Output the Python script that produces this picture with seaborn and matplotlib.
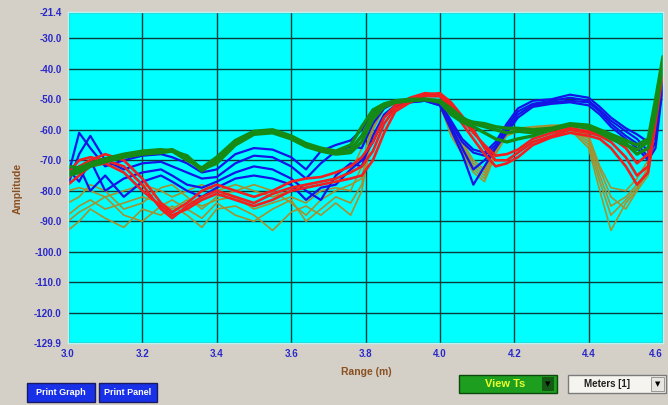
import matplotlib
matplotlib.use("Agg")
import matplotlib.pyplot as plt
import seaborn as sns
from matplotlib.patches import Rectangle

# ---------------- data ----------------
X = [3.00, 3.03, 3.06, 3.10, 3.15, 3.20, 3.25, 3.28, 3.32, 3.36, 3.40, 3.45, 3.50, 3.55,
     3.60, 3.64, 3.68, 3.72, 3.76, 3.79, 3.82, 3.85, 3.88, 3.92, 3.96, 4.00, 4.03, 4.06,
     4.09, 4.12, 4.15, 4.18, 4.21, 4.25, 4.30, 4.35, 4.40, 4.43, 4.46, 4.50, 4.53, 4.56,
     4.58, 4.60]

olive_1 = [-80, -79, -80, -82, -80, -78, -80, -82, -80, -78, -80, -78, -80, -82, -80, -78, -77, -76, -74, -66, -55, -51.5, -50.5, -50, -50, -50.5, -58, -64, -70, -73, -65, -60.5, -59.5, -59, -58.5, -58.5, -62, -72, -79, -80, -76, -70, -52, -36]
olive_2 = [-88, -85, -83, -86, -84, -82, -84, -86, -83, -85, -83, -82, -86, -84, -82, -84, -80, -79, -80, -72, -57, -52, -51, -50.3, -50.2, -51, -60, -66, -72, -75, -67, -61, -60, -59.5, -59, -59, -64, -75, -85, -82, -78, -73, -55, -37]
olive_3 = [-93, -90, -86, -89, -92, -86, -88, -85, -88, -92, -86, -85, -88, -93, -87, -85, -88, -84, -88, -80, -60, -53, -51.5, -50.5, -50.3, -51.5, -62, -68, -74, -77, -68, -62, -60.5, -60, -59.5, -60, -66, -80, -93, -84, -80, -75, -58, -39]
olive_4 = [-84, -82, -78, -80, -86, -84, -79, -78, -82, -86, -82, -80, -78, -80, -84, -88, -83, -80, -78, -76, -58, -52.5, -51, -50.5, -50.2, -51, -59, -65, -71, -74, -66, -61, -60, -59.5, -59, -59, -63, -73, -82, -86, -80, -72, -54, -37]
olive_5 = [-90, -87, -85, -82, -88, -90, -85, -83, -86, -89, -84, -88, -90, -86, -83, -90, -86, -82, -84, -78, -59, -53, -51, -50.5, -50.3, -52, -61, -67, -73, -76, -67, -61.5, -60.5, -60, -59.5, -59.5, -65, -77, -88, -83, -79, -74, -56, -38]

blue_1 = [-75, -61, -66, -72, -70, -68.5, -68, -69, -71, -74, -73, -68, -66, -66.5, -69, -73, -67, -65, -63.5, -60, -54, -51.5, -50.5, -50, -50, -51, -57, -63, -66.5, -67.5, -64, -58, -53, -50.5, -50, -48.5, -49.5, -52.5, -56, -59.5, -61.5, -64, -60, -40]
blue_2 = [-78, -68, -62, -70, -73, -71, -70.5, -72, -74, -76, -75.5, -71, -68.5, -69, -72, -76, -71, -67, -65.5, -66, -58, -53, -51, -50.2, -50, -51.5, -58, -64, -67.5, -68.5, -65, -59, -54, -51.5, -50.5, -49.5, -50.5, -53.5, -57, -60.5, -63, -67, -62, -42]
blue_3 = [-73, -77, -70, -80, -76, -74, -73, -75, -78, -79, -77, -74, -72, -73, -76, -80, -83, -75, -71, -72, -62, -55, -52, -51, -50.5, -52, -59, -66, -73, -70, -66, -60, -55, -52, -51, -50.5, -51, -54, -58, -62, -64.5, -69, -64, -44]
blue_4 = [-76, -72, -80, -75, -82, -77, -75, -77, -80, -82, -79, -76, -75, -76, -78, -83, -79, -78, -73, -70, -64, -56, -52.5, -51, -50.5, -52, -60, -68, -78, -72, -66, -61, -56, -52.5, -51.5, -51, -52, -55, -59, -63, -66, -70, -66, -45]

red_1 = [-76, -72, -70, -68, -70, -76, -84, -87, -84, -80, -78, -80, -82, -80, -77, -76, -75.5, -74, -72, -69, -64, -56, -52, -49.5, -48, -48.5, -52, -56.5, -61, -65, -68.5, -68, -66.5, -63, -61, -59.5, -60.5, -61.5, -62.5, -66, -71, -68, -52, -37]
red_2 = [-74, -70, -69, -70, -72, -78, -86, -89, -85, -82, -80, -82, -84, -81, -79, -78, -77, -76, -74, -72, -67, -58, -53, -50.5, -48.5, -48, -51, -55.5, -60, -66, -70, -70, -67.5, -64, -62, -60, -61, -62, -64, -69, -75, -72, -55, -39]
red_3 = [-78, -75, -72, -71, -74, -80, -85, -88, -86, -83, -81, -83, -85, -83, -80, -79, -78, -77, -76, -75, -70, -61, -54, -51, -49, -49, -53, -58, -63, -68, -72, -71, -69, -65, -62.5, -61, -62, -63, -66, -72, -78, -74, -58, -41]

green_1 = [-74, -73, -71.5, -70, -68.5, -67.5, -67, -66.5, -69, -73.5, -70, -64, -61, -60.5, -62.5, -65, -66.5, -67.5, -66.5, -62, -55, -52, -51, -50.3, -50, -50.5, -54, -56.5, -57.5, -58, -59, -59.5, -59.5, -60, -59.5, -58, -58.5, -60, -61.5, -63.5, -65, -63, -50, -36]
green_2 = [-72, -72.5, -71, -69.5, -68, -67, -66.5, -67, -70, -72.5, -69, -63.5, -60.5, -60, -62, -64.5, -66, -67, -65, -59, -53.5, -51.5, -50.5, -50, -50, -51, -55, -57.5, -59, -61, -63, -64, -63, -62, -60, -58.5, -59.5, -61, -63, -65, -66.5, -64, -52, -37]
green_3 = [-75, -74, -72, -70.5, -69, -68, -67.5, -67, -68.5, -73, -71, -65, -61.5, -61, -63, -65.5, -67, -68, -67.5, -64, -56.5, -52.5, -51, -50.5, -50.2, -50.5, -53, -56, -58, -59, -60, -61, -60.5, -61, -60, -58.5, -59, -61, -62.5, -64.5, -68, -66, -55, -38]

Y_TICKS = [-21.4, -30.0, -40.0, -50.0, -60.0, -70.0, -80.0, -90.0, -100.0, -110.0, -120.0, -129.9]
X_TICKS = [3.0, 3.2, 3.4, 3.6, 3.8, 4.0, 4.2, 4.4, 4.6]

groups = [
    ("#a39230", 1.2, [olive_1, olive_2, olive_3, olive_4, olive_5]),
    ("#1414e6", 1.6, [blue_1, blue_2, blue_3, blue_4]),
    ("#f02020", 1.9, [red_1, red_2, red_3]),
    ("#158a15", 2.4, [green_1, green_2, green_3]),
]

# ---------------- figure ----------------
sns.set_theme(style="white")
plt.rcParams["font.family"] = ["Liberation Sans Narrow", "Liberation Sans", "DejaVu Sans"]

W, H = 668, 405
fig = plt.figure(figsize=(W / 100, H / 100), dpi=100)
fig.patch.set_facecolor("#d4d0c8")

L, R, T, B = 68, 663, 12, 343
ax = fig.add_axes([L / W, 1 - B / H, (R - L) / W, (B - T) / H])
ax.set_facecolor("#00ffff")

for color, lw, series in groups:
    for s in series:
        sns.lineplot(x=X, y=s, ax=ax, color=color, linewidth=lw, legend=False)

ax.set_xlim(3.0, 4.6)
ax.set_ylim(-129.9, -21.4)
ax.set_xticks(X_TICKS)
ax.set_xticklabels([f"{v:.1f}" for v in X_TICKS])
ax.set_yticks(Y_TICKS)
ax.set_yticklabels([f"{v:.1f}" for v in Y_TICKS])
ax.grid(True, color="#0a3a3a", linewidth=1.0)
ax.set_axisbelow(True)
ax.tick_params(axis="both", direction="out", length=3, width=0.8, color="#444444",
               labelsize=7, labelcolor="#2828c8", pad=1.5)
for lab in ax.get_xticklabels() + ax.get_yticklabels():
    lab.set_fontweight("bold")
# last x label sits at the figure edge, as in the reference; nudge it slightly inward
ax.get_xticklabels()[-1].set_horizontalalignment("right")
ax.get_xticklabels()[-1].set_x(4.6)
for sp in ax.spines.values():
    sp.set_color("#b8f4f4")
    sp.set_linewidth(1.0)
ax.set_xlabel("")
ax.set_ylabel("")

fig.text(18 / W, 1 - 188 / H, "Amplitude", rotation=90, ha="center", va="center",
         fontsize=7.5, fontweight="bold", color="#8a5020")
fig.text(366 / W, 1 - 372 / H, "Range (m)", ha="center", va="center",
         fontsize=7.5, fontweight="bold", color="#8a5020")


def button(x0, y0, x1, y1, face, text, tcolor, edge="#1a1a60", fs=6.5):
    fig.patches.append(Rectangle((x0 / W, 1 - y1 / H), (x1 - x0) / W, (y1 - y0) / H,
                                 transform=fig.transFigure, facecolor=face,
                                 edgecolor=edge, linewidth=1.0))
    fig.text(((x0 + x1) / 2) / W, 1 - ((y0 + y1) / 2) / H, text, ha="center",
             va="center", fontsize=fs, fontweight="bold", color=tcolor)


button(27, 383, 95, 402, "#1830e8", "Print Graph", "white")
button(99, 383, 157, 402, "#1830e8", "Print Panel", "white")

# View Ts dropdown
fig.patches.append(Rectangle((459 / W, 1 - 393 / H), (557 - 459) / W, 18 / H,
                             transform=fig.transFigure, facecolor="#1e9e1e",
                             edgecolor="#0c4a0c", linewidth=1.0))
fig.text(505 / W, 1 - 384 / H, "View Ts", ha="center", va="center", fontsize=8,
         fontweight="bold", color="#e8ff30")
fig.patches.append(Rectangle((542 / W, 1 - 391 / H), 12 / W, 14 / H,
                             transform=fig.transFigure, facecolor="#145a14",
                             edgecolor="none"))
fig.text(548 / W, 1 - 384 / H, "\u25BC", ha="center", va="center", fontsize=5,
         color="black", family="DejaVu Sans")

# Meters dropdown
fig.patches.append(Rectangle((568 / W, 1 - 393 / H), (666 - 568) / W, 18 / H,
                             transform=fig.transFigure, facecolor="#f6f4ee",
                             edgecolor="#7a7a7a", linewidth=1.0))
fig.text(607 / W, 1 - 384 / H, "Meters [1]", ha="center", va="center", fontsize=7,
         fontweight="bold", color="#202020")
fig.patches.append(Rectangle((651 / W, 1 - 391 / H), 13 / W, 14 / H,
                             transform=fig.transFigure, facecolor="#e8e6e0",
                             edgecolor="#8a8a8a", linewidth=0.6))
fig.text(657.5 / W, 1 - 384 / H, "\u25BC", ha="center", va="center", fontsize=5,
         color="black", family="DejaVu Sans")

fig.savefig("out.png", dpi=100, facecolor=fig.get_facecolor())
